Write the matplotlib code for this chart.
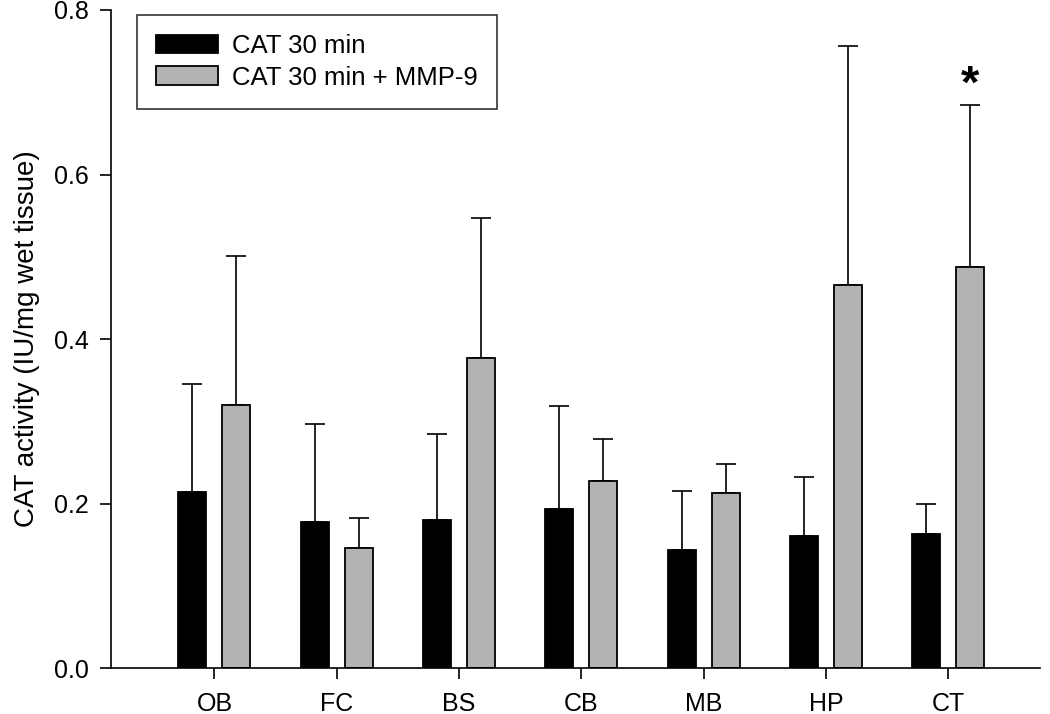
import numpy as np
import matplotlib.pyplot as plt

plt.rcParams['font.family'] = ['Liberation Sans', 'DejaVu Sans']

regions = ['OB', 'FC', 'BS', 'CB', 'MB', 'HP', 'CT']
cat_mean = [0.214, 0.177, 0.180, 0.193, 0.143, 0.160, 0.163]
cat_err = [0.131, 0.120, 0.105, 0.125, 0.072, 0.072, 0.037]
mmp_mean = [0.320, 0.146, 0.377, 0.227, 0.213, 0.466, 0.487]
mmp_err = [0.181, 0.036, 0.170, 0.051, 0.035, 0.290, 0.198]

x = np.arange(len(regions))
w = 0.229
off = 0.18

fig = plt.figure(figsize=(10.5, 7.14), dpi=100)
ax = fig.add_axes([0.1057, 0.0644, 0.8848, 0.9216])

ax.bar(x - off, cat_mean, w, color='black', edgecolor='black', linewidth=1.3,
       label='CAT 30 min', zorder=2)
ax.bar(x + off, mmp_mean, w, color='#b3b3b3', edgecolor='black', linewidth=1.3,
       label='CAT 30 min + MMP-9', zorder=2)
ax.errorbar(x - off, cat_mean, yerr=[np.zeros(len(x)), cat_err], fmt='none',
            ecolor='black', elinewidth=1.2, capsize=7, capthick=1.2, zorder=1)
ax.errorbar(x + off, mmp_mean, yerr=[np.zeros(len(x)), mmp_err], fmt='none',
            ecolor='black', elinewidth=1.2, capsize=7, capthick=1.2, zorder=1)

# significance marker above CT
ax.text(x[-1] + off, mmp_mean[-1] + mmp_err[-1] - 0.004, '*', ha='center', va='bottom',
        fontsize=34, fontweight='bold')

ax.set_xlim(-0.846, 6.75)
ax.set_ylim(0, 0.8)
ax.set_xticks(x)
ax.set_xticklabels(regions)
ax.set_yticks([0.0, 0.2, 0.4, 0.6, 0.8])
ax.set_yticklabels(['0.0', '0.2', '0.4', '0.6', '0.8'])
ax.tick_params(axis='both', labelsize=18, length=8, width=1.2, direction='out')
ax.tick_params(axis='x', pad=9)
ax.tick_params(axis='y', pad=8)
ax.set_ylabel('CAT activity (IU/mg wet tissue)', fontsize=20, labelpad=10)
ax.spines['top'].set_visible(False)
ax.spines['right'].set_visible(False)
ax.spines['left'].set_linewidth(1.2)
ax.spines['bottom'].set_linewidth(1.2)

leg = ax.legend(loc='upper left', bbox_to_anchor=(0.028, 0.993), fontsize=18.5,
                frameon=True, fancybox=False, edgecolor='black', handlelength=2.4,
                handleheight=0.75, borderpad=0.75, labelspacing=0.3, handletextpad=0.55,
                borderaxespad=0)
leg.get_frame().set_linewidth(1.2)

fig.savefig('out.png', dpi=100)
